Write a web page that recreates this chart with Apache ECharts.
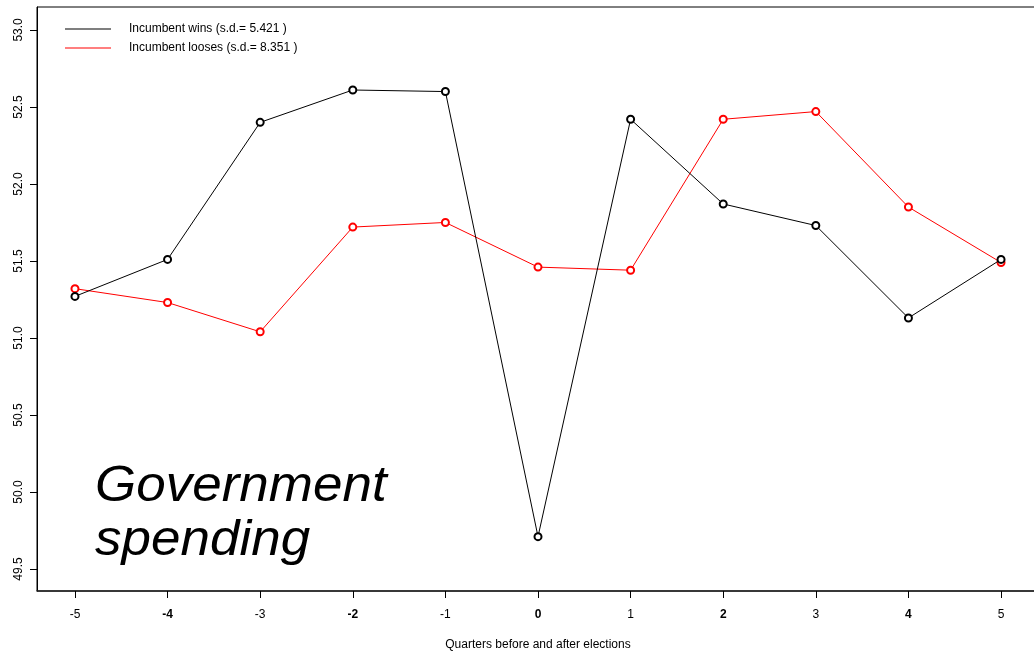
<!DOCTYPE html>
<html><head><meta charset="utf-8">
<script src="https://cdn.jsdelivr.net/npm/echarts@6/dist/echarts.min.js"></script>
<style>html,body{margin:0;padding:0;background:#fff}#c{width:1034px;height:651px}</style>
</head><body><div id="c"></div>
<script>
const quarters = [-5, -4, -3, -2, -1, 0, 1, 2, 3, 4, 5];
const winsValues = [51.27, 51.51, 52.40, 52.61, 52.60, 49.71, 52.42, 51.87, 51.73, 51.13, 51.51];
const loosesValues = [51.32, 51.23, 51.04, 51.72, 51.75, 51.46, 51.44, 52.42, 52.47, 51.85, 51.49];
const yTicks = [49.5, 50.0, 50.5, 51.0, 51.5, 52.0, 52.5, 53.0];
const boldTicks = [-4, -2, 0, 2, 4];
const seriesNames = ['Incumbent wins (s.d.= 5.421 )', 'Incumbent looses (s.d.= 8.351 )'];
const xTitle = 'Quarters before and after elections';
const panelTitle = 'Government\nspending';

const FONT = '"Liberation Sans", Arial, sans-serif';
const chart = echarts.init(document.getElementById('c'), null, {renderer: 'canvas'});
chart.setOption({
  animation: false,
  backgroundColor: '#fff',
  grid: {left: 37, top: 7, right: -5, bottom: 60, show: true, borderColor: '#000', borderWidth: 1,
         outerBoundsMode: 'none', containLabel: false},
  legend: {
    orient: 'vertical', left: 60, top: 18, itemGap: 7,
    icon: 'rect', itemWidth: 46, itemHeight: 1,
    textStyle: {fontFamily: FONT, fontSize: 12, color: '#000', padding: [6, 0, 0, 13]},
    data: [
      {name: seriesNames[0], itemStyle: {color: '#000', borderWidth: 0}},
      {name: seriesNames[1], itemStyle: {color: '#ff0000', borderWidth: 0}}
    ]
  },
  xAxis: {
    type: 'value', min: -5.41, max: 5.41,
    name: xTitle, nameLocation: 'middle', nameGap: 48,
    nameTextStyle: {fontFamily: FONT, fontSize: 12, color: '#000'},
    axisLine: {show: true, onZero: false, lineStyle: {color: '#222', width: 1.5}},
    axisTick: {show: true, length: 7, customValues: quarters, lineStyle: {color: '#000'}},
    splitLine: {show: false},
    axisLabel: {
      customValues: quarters, margin: 18, fontFamily: FONT, fontSize: 12, color: '#000',
      formatter: v => boldTicks.includes(v) ? '{b|' + v + '}' : String(v),
      rich: {b: {fontWeight: 'bold', fontFamily: FONT, fontSize: 12, color: '#000'}}
    }
  },
  yAxis: {
    type: 'value', min: 49.357, max: 53.149,
    axisLine: {show: true, onZero: false, lineStyle: {color: '#000', width: 1}},
    axisTick: {show: true, length: 7, customValues: yTicks, lineStyle: {color: '#000'}},
    splitLine: {show: false},
    axisLabel: {
      customValues: yTicks, rotate: 90, margin: 12, fontFamily: FONT, fontSize: 12, color: '#000',
      formatter: v => v.toFixed(1)
    }
  },
  series: [
    {name: seriesNames[0], type: 'line', data: quarters.map((q, i) => [q, winsValues[i]]),
     symbol: 'emptyCircle', symbolSize: 7, lineStyle: {color: '#000', width: 1},
     itemStyle: {color: '#000', borderColor: '#000', borderWidth: 0.8}, z: 3},
    {name: seriesNames[1], type: 'line', data: quarters.map((q, i) => [q, loosesValues[i]]),
     symbol: 'emptyCircle', symbolSize: 7, lineStyle: {color: '#ff0000', width: 1},
     itemStyle: {color: '#ff0000', borderColor: '#ff0000', borderWidth: 0.8}, z: 2}
  ],
  graphic: [{
    type: 'text', x: 95, y: 460, scaleX: 1.06,
    style: {text: panelTitle, font: 'italic 50px ' + FONT, lineHeight: 54, fill: '#000'}
  }]
});
</script></body></html>
